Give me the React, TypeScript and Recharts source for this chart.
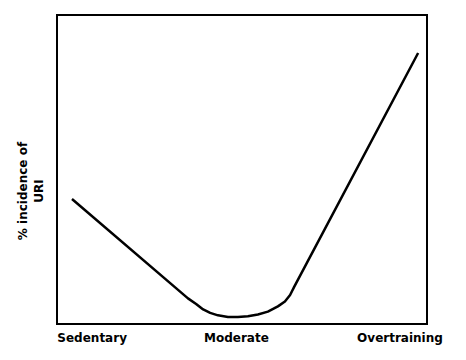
import React from "react";
import {
  LineChart,
  Line,
  XAxis,
  YAxis,
  ReferenceArea,
} from "recharts";

// exercise load (0 = none, 100 = extreme) vs. % incidence of URI
const exerciseLoad = [
  4.05, 35.4, 37.6, 39.5, 41.4, 43.5, 46.2, 48.9, 51.6, 54.3, 57.0, 59.7, 61.6, 63.0, 64.1, 97.6,
];
const uriIncidence = [
  40.45, 8.3, 6.5, 4.7, 3.6, 2.8, 2.3, 2.3, 2.5, 3.1, 4.0, 5.7, 7.3, 9.4, 12.0, 87.7,
];

const tickPositions = [9.5, 48.5, 92.7];
const tickLabels = ["Sedentary", "Moderate", "Overtraining"];

const yLabelLines = ["% incidence of", "URI"];

const data = exerciseLoad.map((x, i) => ({ load: x, uri: uriIncidence[i] }));

const FONT = "'DejaVu Sans', sans-serif";

function formatTick(value: number): string {
  const idx = tickPositions.indexOf(value);
  return idx >= 0 ? tickLabels[idx] : "";
}

function YLabel(): React.ReactElement {
  const cy = 191;
  return (
    <g>
      <text
        x={27}
        y={cy}
        transform={`rotate(-90, 27, ${cy})`}
        textAnchor="middle"
        fontFamily={FONT}
        fontSize={12}
        fontWeight="bold"
        fill="#000"
      >
        {yLabelLines[0]}
      </text>
      <text
        x={43}
        y={cy}
        transform={`rotate(-90, 43, ${cy})`}
        textAnchor="middle"
        fontFamily={FONT}
        fontSize={12}
        fontWeight="bold"
        fill="#000"
      >
        {yLabelLines[1]}
      </text>
    </g>
  );
}

export default function App(): React.ReactElement {
  return (
    <div style={{ width: 466, height: 360, background: "#fff" }}>
      <style>{`body { margin: 0; }`}</style>
      <LineChart
        width={466}
        height={360}
        data={data}
        margin={{ top: 15, right: 39, left: 0, bottom: 0 }}
      >
        <XAxis
          dataKey="load"
          type="number"
          domain={[0, 100]}
          ticks={tickPositions}
          tickFormatter={formatTick}
          interval={0}
          height={36}
          axisLine={false}
          tickLine={false}
          tickSize={0}
          tickMargin={9}
          tick={{ fill: "#000", fontSize: 12, fontWeight: "bold", fontFamily: FONT }}
        />
        <YAxis
          type="number"
          domain={[0, 100]}
          width={57}
          tick={false}
          axisLine={false}
          tickLine={false}
          label={<YLabel />}
        />
        <ReferenceArea
          x1={0}
          x2={100}
          y1={0}
          y2={100}
          fill="none"
          stroke="#000"
          strokeWidth={2}
          fillOpacity={0}
        />
        <Line
          type="linear"
          dataKey="uri"
          stroke="#000"
          strokeWidth={2.5}
          strokeLinejoin="round"
          dot={false}
          isAnimationActive={false}
        />
      </LineChart>
    </div>
  );
}
